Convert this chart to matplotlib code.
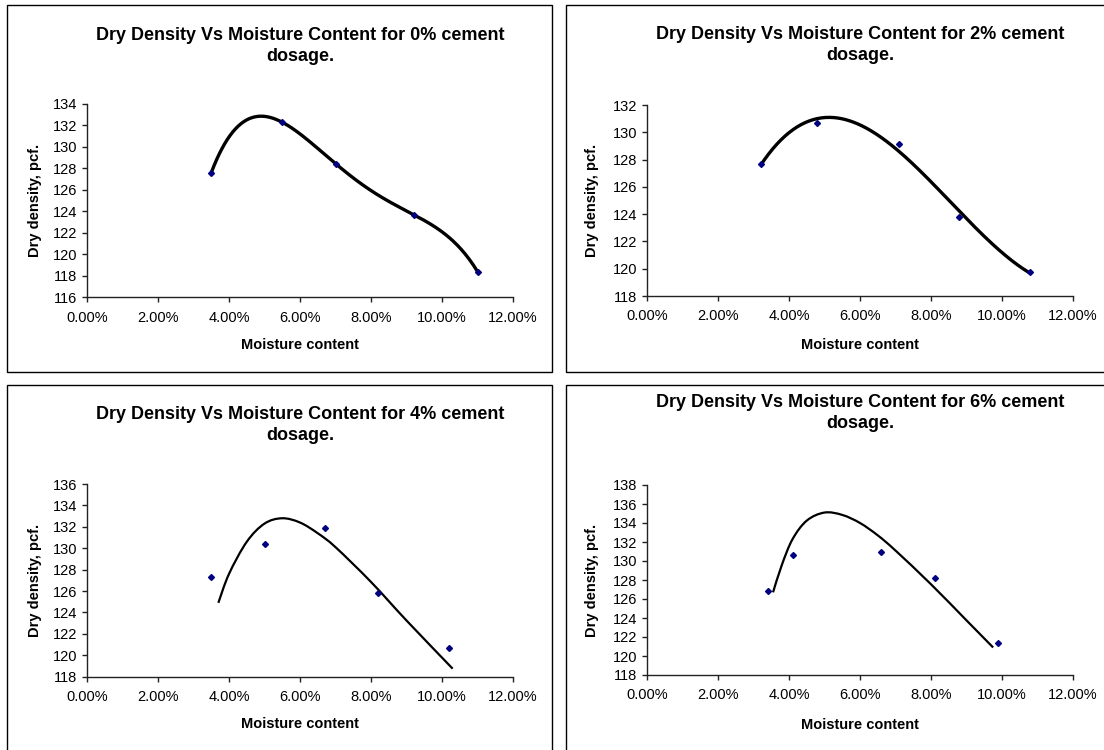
import numpy as np
import matplotlib
matplotlib.use("Agg")
import matplotlib.pyplot as plt
from matplotlib.path import Path
from matplotlib.patches import PathPatch, Rectangle
from matplotlib.ticker import PercentFormatter

plt.rcParams['font.family'] = ['Liberation Sans', 'DejaVu Sans']

W, H = 1104, 750

dosages = ['0%', '2%', '4%', '6%']

# compaction test points: moisture content (%) and dry density (pcf)
mc_0 = [3.5, 5.5, 7.0, 9.2, 11.0]
dd_0 = [127.6, 132.3, 128.45, 123.7, 118.4]
mc_2 = [3.2, 4.8, 7.1, 8.8, 10.8]
dd_2 = [127.7, 130.65, 129.15, 123.8, 119.75]
mc_4 = [3.5, 5.0, 6.7, 8.2, 10.2]
dd_4 = [127.35, 130.4, 131.85, 125.85, 120.65]
mc_6 = [3.4, 4.1, 6.6, 8.1, 9.9]
dd_6 = [126.8, 130.65, 130.9, 128.25, 121.35]

# polynomial trendline order for 0% and 2%
trend_order_0 = 4
trend_order_2 = 3

# drawn compaction curves for 4% and 6%
curve_mc_4 = [3.7, 4.0, 4.5, 5.0, 5.5, 6.0, 6.5, 7.0, 8.0, 9.0, 10.3]
curve_dd_4 = [124.9, 127.6, 130.6, 132.3, 132.8, 132.4, 131.4, 130.1, 126.85, 123.25, 118.75]
curve_mc_6 = [3.55, 3.8, 4.1, 4.5, 5.0, 5.5, 6.0, 6.5, 7.0, 8.0, 9.0, 9.75]
curve_dd_6 = [126.7, 129.6, 132.3, 134.25, 135.1, 134.85, 134.0, 132.7, 131.1, 127.55, 123.75, 120.9]

y_ranges = [(116, 134), (118, 132), (118, 136), (118, 138)]


def fx(px):
    return px / W


def fy(py):
    return 1 - py / H


def smooth_curve(ax, xs, ys, lw):
    # Catmull-Rom through the knots, drawn as cubic Bezier segments
    pts = np.column_stack([xs, ys])
    n = len(pts)
    verts = [pts[0]]
    codes = [Path.MOVETO]
    for i in range(n - 1):
        p0 = pts[max(i - 1, 0)]
        p1 = pts[i]
        p2 = pts[i + 1]
        p3 = pts[min(i + 2, n - 1)]
        verts += [p1 + (p2 - p0) / 6, p2 - (p3 - p1) / 6, p2]
        codes += [Path.CURVE4] * 3
    ax.add_patch(PathPatch(Path(verts, codes), fill=False, lw=lw,
                           ec='black', capstyle='butt', zorder=2))


def trendline(ax, xs, ys, order, lw):
    coef = np.polyfit(xs, ys, order)
    xx = np.linspace(min(xs), max(xs), 200)
    ax.plot(xx, np.polyval(coef, xx), color='black', lw=lw,
            solid_capstyle='butt', zorder=2)


fig = plt.figure(figsize=(W / 100, H / 100), dpi=100)

# pixel layout of each chart: frame box, plot area, title / label centres
layout = [
    dict(box=(7, 5, 552, 372), ax=(87, 104, 513, 297.3), title=46, xlab=345, ylab=(35, 200)),
    dict(box=(566, 5, 1110, 372), ax=(647, 105, 1073, 296), title=45, xlab=345, ylab=(592, 200)),
    dict(box=(7, 385, 552, 760), ax=(87, 484, 513, 676.7), title=425, xlab=724, ylab=(35, 580)),
    dict(box=(566, 385, 1110, 760), ax=(647, 485, 1073, 675), title=413, xlab=725, ylab=(592, 580)),
]

points = [(mc_0, dd_0), (mc_2, dd_2), (mc_4, dd_4), (mc_6, dd_6)]

for k, lay in enumerate(layout):
    bx0, by0, bx1, by1 = lay['box']
    fig.add_artist(Rectangle((fx(bx0), fy(by1)), (bx1 - bx0) / W, (by1 - by0) / H,
                             transform=fig.transFigure, fill=False, ec='black', lw=1))
    x0, y0, x1, y1 = lay['ax']
    ax = fig.add_axes([fx(x0), fy(y1), (x1 - x0) / W, (y1 - y0) / H])
    ax.set_xlim(0, 12)
    lo, hi = y_ranges[k]
    ax.set_ylim(lo, hi)
    ax.set_xticks(np.arange(0, 13, 2))
    ax.set_yticks(np.arange(lo, hi + 1, 2))
    ax.xaxis.set_major_formatter(PercentFormatter(xmax=100, decimals=2))
    for side in ['top', 'right']:
        ax.spines[side].set_visible(False)
    for side in ['left', 'bottom']:
        ax.spines[side].set_color('#222222')
        ax.spines[side].set_linewidth(1)
    ax.tick_params(direction='out', length=3.6, width=1, color='#222222',
                   labelsize=10.5)
    ax.tick_params(axis='x', pad=6)
    ax.tick_params(axis='y', pad=3.5)
    ax.patch.set_alpha(0)

    xs, ys = points[k]
    if k == 0:
        trendline(ax, xs, ys, trend_order_0, 2.4)
    elif k == 1:
        trendline(ax, xs, ys, trend_order_2, 2.4)
    elif k == 2:
        smooth_curve(ax, curve_mc_4, curve_dd_4, 1.6)
    else:
        smooth_curve(ax, curve_mc_6, curve_dd_6, 1.6)
    ax.plot(xs, ys, linestyle='none', marker='D', ms=3.0, color='#000080', zorder=3)

    cx = (x0 + x1) / 2
    fig.text(fx(cx), fy(lay['title']),
             'Dry Density Vs Moisture Content for %s cement\ndosage.' % dosages[k],
             ha='center', va='center', fontsize=13, fontweight='bold', linespacing=1.3)
    fig.text(fx(cx), fy(lay['xlab']), 'Moisture content', ha='center', va='center',
             fontsize=10.5, fontweight='bold')
    fig.text(fx(lay['ylab'][0]), fy(lay['ylab'][1]), 'Dry density, pcf.', ha='center',
             va='center', rotation=90, fontsize=10.5, fontweight='bold')

fig.savefig('out.png', dpi=100)
